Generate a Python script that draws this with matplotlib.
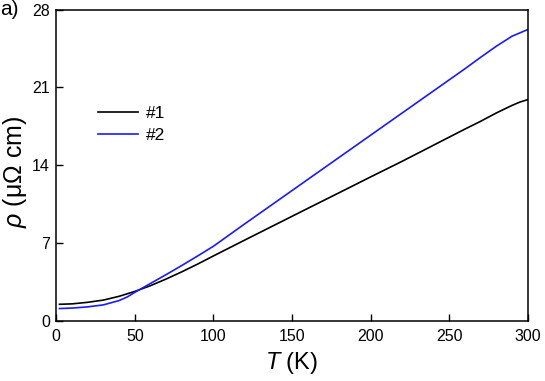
import matplotlib
matplotlib.use("Agg")
import matplotlib.pyplot as plt

plt.rcParams['font.family'] = ['Liberation Sans', 'DejaVu Sans']
plt.rcParams['mathtext.fontset'] = 'custom'
plt.rcParams['mathtext.rm'] = 'Liberation Sans'
plt.rcParams['mathtext.it'] = 'Liberation Sans:italic'

# Sample #1 (black)
T1 = [2, 10, 20, 30, 40, 50, 60, 70, 80, 90, 100, 120, 140, 160, 180, 200,
      220, 240, 260, 270, 280, 290, 295, 300]
rho1 = [1.50, 1.54, 1.68, 1.88, 2.22, 2.66, 3.18, 3.78, 4.43, 5.12, 5.85, 7.28,
        8.70, 10.12, 11.53, 12.95, 14.35, 15.80, 17.25, 17.95, 18.70, 19.38,
        19.68, 19.90]

# Sample #2 (blue)
T2 = [2, 10, 20, 30, 40, 45, 50, 55, 60, 70, 80, 90, 100, 120, 140, 160, 180,
      200, 220, 240, 260, 270, 280, 290, 300]
rho2 = [1.12, 1.16, 1.27, 1.45, 1.84, 2.15, 2.58, 2.98, 3.38, 4.18, 5.00, 5.85,
        6.72, 8.74, 10.73, 12.72, 14.71, 16.70, 18.69, 20.68, 22.67, 23.70,
        24.70, 25.60, 26.20]

labels = ['#1', '#2']
xticks = [0, 50, 100, 150, 200, 250, 300]
yticks = [0, 7, 14, 21, 28]

fig = plt.figure(figsize=(5.45, 3.81), dpi=100)
ax = fig.add_axes([0.1033, 0.1575, 0.865, 0.8175])

ax.plot(T1, rho1, color='black', lw=1.2, label=labels[0])
ax.plot(T2, rho2, color='#1a1aff', lw=1.2, label=labels[1])

ax.set_xlim(0, 300)
ax.set_ylim(0, 28)
ax.set_xticks(xticks)
ax.set_yticks(yticks)
ax.tick_params(direction='in', length=5, width=1, labelsize=11.5,
               top=False, right=False)
ax.tick_params(axis='x', pad=6)
ax.tick_params(axis='y', pad=4.5)
for s in ax.spines.values():
    s.set_linewidth(1.1)

ax.set_xlabel('$T$ (K)', fontsize=17, va='center')
ax.xaxis.set_label_coords(0.5, -0.135)
ax.set_ylabel(r'$\rho$ (μΩ cm)', fontsize=18, va='center')
ax.yaxis.set_label_coords(-0.0876, 0.48)

ax.legend(loc='upper left', bbox_to_anchor=(0.0885, 0.69), frameon=False,
          borderpad=0, borderaxespad=0, handlelength=2.3, handletextpad=0.45,
          labelspacing=0.38, fontsize=12.5)

fig.text(0.0, 0.974, 'a)', fontsize=15, ha='left', va='center')

fig.savefig('out.png', dpi=100)
